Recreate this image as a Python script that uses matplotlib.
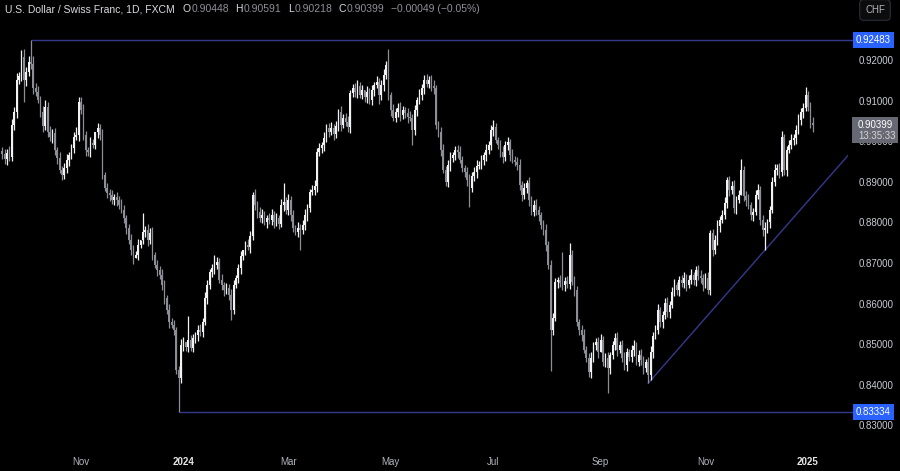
import matplotlib
matplotlib.use('Agg')
import matplotlib.pyplot as plt
import matplotlib.transforms as mtransforms
from matplotlib.patches import Rectangle
import numpy as np
import pandas as pd

plt.rcParams['font.family'] = ['Liberation Sans Narrow', 'Liberation Sans', 'DejaVu Sans']

# ---------------- data ----------------
start_date = '2023-09-15'
first_open = 0.8975

closes = [
    0.8968, 0.8955, 0.8972, 0.8960, 0.9040, 0.9072, 0.9151, 0.9160, 0.9207, 0.9151,
    0.9170, 0.9195, 0.9190, 0.9131, 0.9121, 0.9102, 0.9072, 0.9037, 0.9084, 0.9023,
    0.9010, 0.9020, 0.8978, 0.8959, 0.8929, 0.8917, 0.8934, 0.8954, 0.8966, 0.8983,
    0.9010, 0.9015, 0.9097, 0.9077, 0.9015, 0.8978, 0.8973, 0.8996, 0.8991, 0.9023,
    0.9033, 0.9015, 0.8917, 0.8885, 0.8872, 0.8867, 0.8855, 0.8862, 0.8855, 0.8843,
    0.8830, 0.8811, 0.8786, 0.8757, 0.8732, 0.8712, 0.8720, 0.8744, 0.8757, 0.8776,
    0.8781, 0.8757, 0.8774, 0.8720, 0.8695, 0.8683, 0.8670, 0.8646, 0.8614, 0.8584,
    0.8555, 0.8547, 0.8535, 0.8436, 0.8416, 0.8498, 0.8505, 0.8493, 0.8510, 0.8491,
    0.8515, 0.8523, 0.8535, 0.8530, 0.8555, 0.8614, 0.8646, 0.8678, 0.8688, 0.8695,
    0.8702, 0.8658, 0.8646, 0.8633, 0.8638, 0.8621, 0.8584, 0.8646, 0.8663, 0.8688,
    0.8717, 0.8732, 0.8744, 0.8739, 0.8766, 0.8867, 0.8843, 0.8826, 0.8811, 0.8818,
    0.8801, 0.8811, 0.8806, 0.8818, 0.8801, 0.8811, 0.8796, 0.8843, 0.8850, 0.8830,
    0.8855, 0.8818, 0.8786, 0.8776, 0.8786, 0.8781, 0.8793, 0.8818, 0.8835, 0.8875,
    0.8880, 0.8890, 0.8973, 0.8983, 0.8991, 0.9008, 0.9033, 0.9023, 0.9033, 0.9018,
    0.9037, 0.9072, 0.9040, 0.9057, 0.9047, 0.9035, 0.9119, 0.9131, 0.9121, 0.9136,
    0.9114, 0.9126, 0.9109, 0.9121, 0.9101, 0.9126, 0.9138, 0.9146, 0.9114, 0.9138,
    0.9163, 0.9188, 0.9114, 0.9077, 0.9057, 0.9072, 0.9082, 0.9065, 0.9077, 0.9069,
    0.9060, 0.9057, 0.9028, 0.9077, 0.9101, 0.9114, 0.9131, 0.9151, 0.9141, 0.9151,
    0.9136, 0.9131, 0.9040, 0.9023, 0.8978, 0.8929, 0.8900, 0.8941, 0.8959, 0.8966,
    0.8978, 0.8973, 0.8954, 0.8934, 0.8924, 0.8904, 0.8885, 0.8914, 0.8924, 0.8939,
    0.8941, 0.8954, 0.8966, 0.8978, 0.8991, 0.9028, 0.9035, 0.9003, 0.8991, 0.8973,
    0.8961, 0.8991, 0.8998, 0.8966, 0.8954, 0.8949, 0.8941, 0.8892, 0.8867, 0.8885,
    0.8897, 0.8855, 0.8826, 0.8843, 0.8830, 0.8818, 0.8793, 0.8781, 0.8744, 0.8695,
    0.8535, 0.8564, 0.8653, 0.8658, 0.8651, 0.8646, 0.8655, 0.8648, 0.8720, 0.8653,
    0.8633, 0.8555, 0.8535, 0.8523, 0.8486, 0.8466, 0.8432, 0.8466, 0.8498, 0.8505,
    0.8481, 0.8510, 0.8456, 0.8466, 0.8441, 0.8473, 0.8498, 0.8515, 0.8486, 0.8498,
    0.8466, 0.8449, 0.8481, 0.8468, 0.8486, 0.8496, 0.8456, 0.8473, 0.8461, 0.8441,
    0.8456, 0.8424, 0.8481, 0.8520, 0.8535, 0.8584, 0.8555, 0.8572, 0.8601, 0.8579,
    0.8596, 0.8628, 0.8646, 0.8633, 0.8658, 0.8651, 0.8663, 0.8646, 0.8658, 0.8670,
    0.8658, 0.8683, 0.8668, 0.8663, 0.8646, 0.8663, 0.8633, 0.8774, 0.8732, 0.8757,
    0.8791, 0.8806, 0.8818, 0.8848, 0.8904, 0.8880, 0.8890, 0.8835, 0.8855, 0.8867,
    0.8929, 0.8865, 0.8855, 0.8843, 0.8818, 0.8826, 0.8867, 0.8880, 0.8806, 0.8781,
    0.8786, 0.8801, 0.8830, 0.8900, 0.8929, 0.8934, 0.8924, 0.9010, 0.8929, 0.8978,
    0.8991, 0.9003, 0.9008, 0.9028, 0.9052, 0.9072, 0.9082, 0.9114, 0.9085, 0.90448,
    0.90399,
]

# wick lengths in pips (0.0001) above max(open, close) / below min(open, close)
upper_wick_pips = [
    10, 12, 8, 15, 14, 12, 18, 10, 18, 20, 12, 15, 0, 20, 12, 15, 10, 14, 18, 12,
    15, 10, 12, 8, 14, 10, 12, 15, 8, 10, 12, 20, 0, 12, 15, 10, 8, 14, 10, 0,
    12, 10, 15, 8, 12, 10, 14, 8, 12, 10, 15, 12, 8, 10, 14, 12, 10, 15, 0, 12,
    10, 14, 12, 15, 8, 12, 10, 14, 12, 8, 15, 10, 12, 8, 10, 14, 12, 0, 15, 12,
    10, 8, 12, 15, 10, 14, 12, 8, 10, 25, 12, 10, 14, 8, 12, 10, 15, 12, 8, 10,
    12, 0, 10, 14, 12, 8, 15, 10, 12, 14, 10, 8, 12, 15, 10, 12, 8, 14, 10, 12,
    15, 10, 12, 8, 14, 10, 12, 15, 10, 8, 12, 14, 10, 12, 8, 15, 10, 12, 14, 10,
    12, 8, 15, 10, 12, 14, 8, 10, 12, 15, 10, 12, 0, 14, 10, 12, 8, 15, 10, 12,
    14, 10, 12, 8, 15, 10, 12, 14, 10, 8, 12, 15, 10, 12, 8, 14, 10, 12, 15, 10,
    12, 14, 8, 10, 12, 15, 10, 12, 14, 8, 10, 12, 15, 10, 8, 12, 14, 10, 12, 15,
    10, 12, 8, 14, 10, 12, 0, 10, 8, 12, 14, 10, 12, 8, 15, 10, 12, 14, 10, 12,
    8, 15, 10, 12, 14, 10, 8, 12, 15, 10, 12, 14, 10, 8, 12, 0, 10, 12, 0, 12,
    14, 10, 8, 12, 15, 10, 12, 14, 8, 10, 12, 15, 10, 12, 14, 8, 10, 12, 15, 10,
    12, 14, 10, 8, 12, 15, 10, 12, 14, 10, 8, 12, 15, 10, 12, 14, 8, 10, 12, 15,
    10, 12, 14, 8, 10, 12, 15, 10, 12, 14, 8, 10, 12, 15, 10, 12, 14, 8, 10, 12,
    15, 10, 12, 14, 8, 10, 12, 15, 10, 12, 0, 10, 12, 14, 8, 10, 12, 15, 10, 12,
    14, 8, 10, 12, 15, 10, 12, 14, 8, 10, 12, 15, 10, 12, 14, 10, 12, 0, 10, 12,
    0,
]
lower_wick_pips = [
    12, 10, 14, 8, 10, 12, 15, 10, 12, 0, 14, 10, 12, 15, 10, 8, 12, 14, 10, 12,
    10, 14, 12, 15, 8, 0, 10, 12, 14, 10, 12, 8, 15, 10, 12, 14, 10, 12, 8, 10,
    14, 12, 10, 8, 12, 15, 10, 12, 14, 10, 8, 12, 15, 10, 12, 14, 0, 12, 8, 10,
    12, 15, 10, 12, 8, 14, 10, 12, 15, 10, 14, 8, 12, 10, 0, 12, 14, 10, 12, 8,
    10, 12, 15, 10, 12, 8, 14, 10, 12, 15, 10, 8, 12, 14, 10, 12, 0, 10, 8, 12,
    14, 10, 12, 8, 15, 10, 12, 14, 10, 12, 8, 15, 10, 12, 14, 10, 12, 8, 15, 10,
    12, 14, 10, 8, 12, 0, 10, 12, 14, 10, 8, 12, 15, 10, 12, 14, 10, 12, 8, 15,
    10, 12, 14, 8, 10, 12, 15, 10, 12, 14, 8, 10, 12, 15, 10, 12, 14, 8, 22, 12,
    15, 10, 12, 14, 8, 10, 12, 15, 10, 12, 14, 8, 0, 12, 15, 10, 12, 14, 8, 10,
    12, 15, 10, 12, 14, 8, 10, 12, 15, 10, 12, 14, 8, 10, 12, 15, 0, 10, 12, 14,
    8, 10, 12, 15, 10, 12, 14, 8, 10, 12, 15, 10, 12, 14, 8, 10, 12, 12, 15, 10,
    12, 14, 8, 10, 12, 15, 10, 12, 14, 10, 0, 12, 8, 15, 10, 12, 14, 10, 12, 8,
    15, 10, 12, 14, 8, 10, 12, 15, 10, 12, 14, 0, 10, 12, 12, 15, 10, 12, 14, 8,
    10, 12, 15, 10, 12, 14, 8, 10, 12, 15, 10, 0, 12, 14, 8, 10, 12, 15, 10, 12,
    14, 8, 10, 12, 15, 10, 12, 14, 8, 10, 12, 15, 10, 12, 14, 8, 10, 12, 15, 10,
    12, 14, 8, 10, 12, 15, 10, 12, 14, 8, 0, 12, 15, 10, 12, 14, 8, 10, 12, 15,
    10, 12, 14, 8, 10, 12, 15, 10, 12, 14, 8, 10, 12, 15, 10, 12, 14, 8, 10, 12,
    0,
]

# extremes
key_highs = {8: 0.9225, 12: 0.92483, 32: 0.9109, 40: 0.9045, 59: 0.8823, 78: 0.8570,
             105: 0.8875, 118: 0.8897, 162: 0.9228, 206: 0.9052, 235: 0.8728,
             238: 0.8750, 310: 0.8955, 337: 0.9134, 340: 0.90591}
key_lows = {9: 0.9097, 25: 0.8904, 74: 0.83334, 96: 0.8560, 125: 0.8732, 172: 0.8990,
            196: 0.8838, 230: 0.8433, 254: 0.8380, 271: 0.8404, 320: 0.8732,
            340: 0.90218}

resistance_level = 0.92483
resistance_start = 12
support_level = 0.83334
support_start = 74
trend_points = [(271, 0.8404), (320, 0.8732)]

price_ticks = [0.83, 0.84, 0.85, 0.86, 0.87, 0.88, 0.89, 0.90, 0.91, 0.92]
month_keys = ['2023-11', '2024-01', '2024-03', '2024-05', '2024-07', '2024-09', '2024-11', '2025-01']
month_labels = ['Nov', '2024', 'Mar', 'May', 'Jul', 'Sep', 'Nov', '2025']
bold_labels = ['2024', '2025']

title = 'U.S. Dollar / Swiss Franc, 1D, FXCM'
last_o, last_h, last_l, last_c = 0.90448, 0.90591, 0.90218, 0.90399
change_abs, change_pct = -0.00049, -0.05
countdown = '13:35:33'
currency = 'CHF'

# ---------------- derived OHLC ----------------
n = len(closes)
dates = pd.bdate_range(start_date, periods=n)
opens = [first_open] + closes[:-1]
highs, lows = [], []
for i in range(n):
    o, c = opens[i], closes[i]
    h = max(o, c) + upper_wick_pips[i] / 10000.0
    l = min(o, c) - lower_wick_pips[i] / 10000.0
    highs.append(key_highs.get(i, h))
    lows.append(key_lows.get(i, l))

x = np.arange(n)
up_col = '#f2f2f2'
dn_col = '#8b8e96'
cols = [up_col if closes[i] >= opens[i] else dn_col for i in range(n)]
body_bot = [min(opens[i], closes[i]) for i in range(n)]
body_h = [max(abs(closes[i] - opens[i]), 0.00008) for i in range(n)]

tick_pos = []
keys = dates.strftime('%Y-%m')
for m in month_keys:
    tick_pos.append(int(np.argmax(keys == m)))

# ---------------- figure ----------------
W, H = 900, 471
fig = plt.figure(figsize=(W / 100, H / 100), dpi=100, facecolor='black')
ax = fig.add_axes([0, 31 / H, 848 / W, 440 / H])
ax.set_facecolor('black')

xlim = (-0.965, 354.8)
ylim = (0.826404, 0.934778)
ax.set_xlim(*xlim)
ax.set_ylim(*ylim)

line_col = '#34398c'
ax.hlines(resistance_level, resistance_start, xlim[1] + 3, colors=line_col, linewidth=1, clip_on=False, zorder=1)
ax.hlines(support_level, support_start, xlim[1] + 3, colors=line_col, linewidth=1, clip_on=False, zorder=1)
(tx0, ty0), (tx1, ty1) = trend_points
slope = (ty1 - ty0) / (tx1 - tx0)
ax.plot([tx0, xlim[1]], [ty0, ty0 + slope * (xlim[1] - tx0)], color=line_col, linewidth=1, zorder=1)

ax.vlines(x, lows, highs, colors=cols, linewidth=0.9, zorder=2)
ax.bar(x, body_h, bottom=body_bot, width=0.7, color=cols, linewidth=0, zorder=3)

for s in ax.spines.values():
    s.set_visible(False)

ax.yaxis.tick_right()
ax.set_yticks(price_ticks)
ax.set_yticklabels([f'{p:.5f}' for p in price_ticks])
ax.tick_params(axis='y', length=0, pad=8, labelcolor='#c9ccd4', labelsize=7)

ax.set_xticks(tick_pos)
ax.set_xticklabels(month_labels)
ax.tick_params(axis='x', length=0, pad=12, labelcolor='#b2b5be', labelsize=7)
for lbl in ax.get_xticklabels():
    if lbl.get_text() in bold_labels:
        lbl.set_fontweight('bold')
        lbl.set_color('#e6e6e6')

# price scale labels
tr = mtransforms.blended_transform_factory(fig.transFigure, ax.transData)
ppu = ax.bbox.height / (ylim[1] - ylim[0])  # pixels per price unit
for lvl in (resistance_level, support_level):
    fig.text(856 / W, lvl, f'{lvl:.5f}', transform=tr, color='white', fontsize=7,
             va='center', ha='left', zorder=5,
             bbox=dict(boxstyle='square,pad=0.3', fc='#2962ff', ec='none'))

box_top = last_c + 8 / ppu
box_bot = last_c - 18 / ppu
fig.patches.append(Rectangle((852 / W, box_bot), 46 / W, box_top - box_bot, transform=tr,
                             facecolor='#666973', edgecolor='none', zorder=4))
fig.text(858 / W, last_c, f'{last_c:.5f}', transform=tr, color='white', fontsize=7,
         va='center', ha='left', zorder=5)
fig.text(858 / W, last_c - 11 / ppu, countdown, transform=tr, color='#d6d6d6', fontsize=7,
         va='center', ha='left', zorder=5)

# currency button
fig.text(875 / W, 1 - 10 / H, currency, color='#b2b5be', fontsize=7, ha='center', va='center',
         bbox=dict(boxstyle='round,pad=0.55,rounding_size=0.4', fc='#0c0c0c', ec='#2a2e39', lw=0.8))

# header
renderer = fig.canvas.get_renderer()
ty = 1 - 9 / H
t = fig.text(5 / W, ty, title, color='#d9dbe0', fontsize=7.5, va='center', ha='left')
cur = t.get_window_extent(renderer).x1 + 8
pieces = [('O', '#d9dbe0'), (f'{last_o:.5f}', '#8f9199'), (' ', None),
          ('H', '#d9dbe0'), (f'{last_h:.5f}', '#8f9199'), (' ', None),
          ('L', '#d9dbe0'), (f'{last_l:.5f}', '#8f9199'), (' ', None),
          ('C', '#d9dbe0'), (f'{last_c:.5f}', '#8f9199'), (' ', None),
          (f'\u2212{abs(change_abs):.5f} (\u2212{abs(change_pct):.2f}%)', '#8f9199')]
for txt, col in pieces:
    if col is None:
        cur += 5
        continue
    tt = fig.text(cur / W, ty, txt, color=col, fontsize=7.5, va='center', ha='left')
    cur = tt.get_window_extent(renderer).x1 + 1

fig.savefig('out.png', dpi=100, facecolor='black')
